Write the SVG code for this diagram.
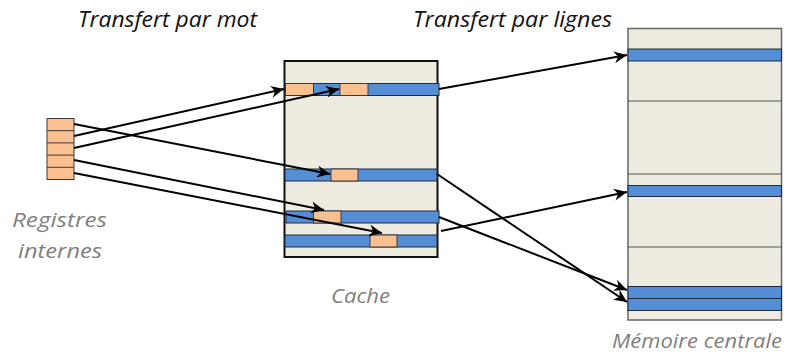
<svg xmlns="http://www.w3.org/2000/svg" width="796" height="354" viewBox="0 0 796 354">
<defs>
<marker id="ah" markerUnits="userSpaceOnUse" markerWidth="14" markerHeight="12" viewBox="0 0 14 12" refX="13" refY="6" orient="auto">
<path d="M0,0 L13,6 L0,12 L4,6 Z" fill="#000"/>
</marker>
<style>
.box{fill:#EEECE1}
.blue{fill:#558ED5;stroke:#1f2a3a;stroke-width:1}
.org{fill:#FAC090;stroke:#3a3a3a;stroke-width:1}
.ln{stroke:#000;stroke-width:2;fill:none;marker-end:url(#ah)}
.title{font-family:"Open Sans",sans-serif;font-style:italic;font-size:21px;fill:#111}
.lab{font-family:"Open Sans",sans-serif;font-style:italic;font-size:20px;fill:#7f7f7f}
.sep{stroke:#555;stroke-width:1}
</style>
</defs>
<rect width="796" height="354" fill="#fff"/>
<text class="title" x="78" y="27" textLength="179" lengthAdjust="spacingAndGlyphs">Transfert par mot</text>
<text class="title" x="413" y="27" textLength="199" lengthAdjust="spacingAndGlyphs">Transfert par lignes</text>

<g id="registres">
<rect x="47" y="118.5" width="27" height="61" class="org"/>
<line x1="47" y1="130.7" x2="74" y2="130.7" stroke="#3a3a3a"/>
<line x1="47" y1="142.9" x2="74" y2="142.9" stroke="#3a3a3a"/>
<line x1="47" y1="155.1" x2="74" y2="155.1" stroke="#3a3a3a"/>
<line x1="47" y1="167.3" x2="74" y2="167.3" stroke="#3a3a3a"/>
<text class="lab" x="12" y="227" textLength="95" lengthAdjust="spacingAndGlyphs">Registres</text>
<text class="lab" x="18" y="258" textLength="84" lengthAdjust="spacingAndGlyphs">internes</text>
</g>

<g id="cache">
<rect x="284.5" y="61" width="153" height="196" class="box" stroke="#111" stroke-width="2"/>
<rect x="285" y="83.5" width="154" height="12" class="blue"/>
<rect x="285.5" y="83.5" width="28" height="12" class="org"/>
<rect x="340" y="83.5" width="28" height="12" class="org"/>
<rect x="285" y="169" width="152" height="12" class="blue"/>
<rect x="331" y="169" width="27" height="12" class="org"/>
<rect x="286" y="211" width="153" height="12" class="blue"/>
<rect x="313.5" y="211" width="27.5" height="12" class="org"/>
<rect x="285" y="235" width="152" height="12" class="blue"/>
<rect x="370" y="235" width="27" height="12" class="org"/>
<text class="lab" x="331" y="303" textLength="59" lengthAdjust="spacingAndGlyphs">Cache</text>
</g>

<g id="memoire">
<rect x="628" y="28.5" width="153.5" height="291.5" class="box" stroke="#666" stroke-width="1.5"/>
<rect x="628" y="49" width="153.5" height="12" class="blue"/>
<line x1="628" y1="101" x2="781.5" y2="101" class="sep"/>
<line x1="628" y1="174" x2="781.5" y2="174" class="sep"/>
<rect x="628" y="185.5" width="153.5" height="11" class="blue"/>
<line x1="628" y1="247" x2="781.5" y2="247" class="sep"/>
<rect x="628" y="286.5" width="153.5" height="12" class="blue"/>
<rect x="628" y="298.5" width="153.5" height="12" class="blue"/>
<text class="lab" x="612" y="348" textLength="170" lengthAdjust="spacingAndGlyphs">Mémoire centrale</text>
</g>

<g id="connecteurs">
<line class="ln" x1="74" y1="124" x2="330" y2="174"/>
<line class="ln" x1="74" y1="136" x2="284" y2="89"/>
<line class="ln" x1="74" y1="148" x2="339" y2="89"/>
<line class="ln" x1="74" y1="160" x2="324" y2="210"/>
<line class="ln" x1="74" y1="173" x2="382" y2="233"/>
<line class="ln" x1="439" y1="89" x2="627" y2="55"/>
<line class="ln" x1="437" y1="174" x2="627" y2="302"/>
<line class="ln" x1="439" y1="217" x2="627" y2="290"/>
<line class="ln" x1="441" y1="231" x2="627" y2="192"/>
</g>
</svg>
